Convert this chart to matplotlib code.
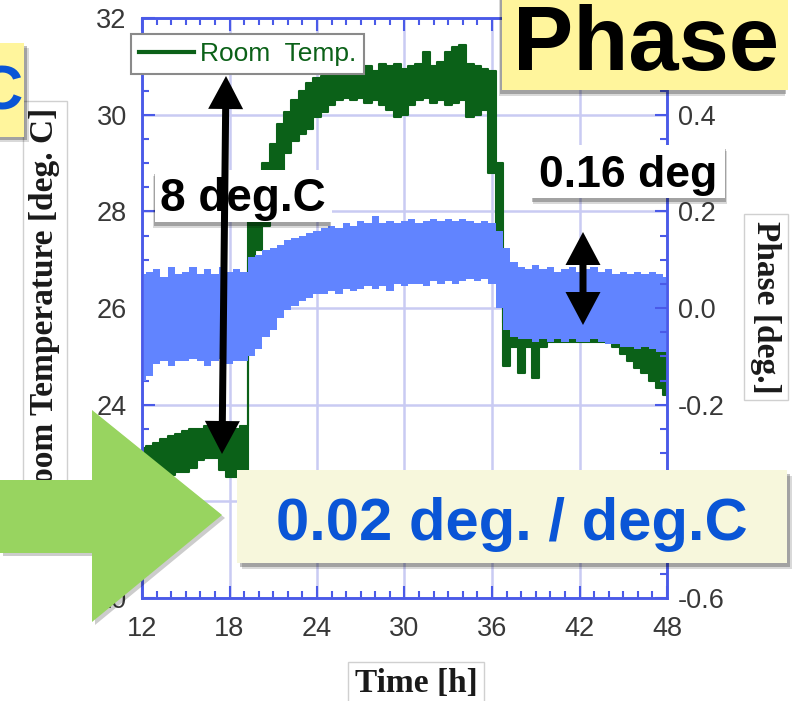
import numpy as np
import matplotlib
matplotlib.use('Agg')
import matplotlib.pyplot as plt
from matplotlib.lines import Line2D
from matplotlib.patches import Rectangle, Polygon
from matplotlib.ticker import MultipleLocator

# time grid [h] and the envelopes of the two noisy traces
hours = np.arange(12, 48.5, 0.5)

temp_hi = [23.1, 23.15, 23.2, 23.3, 23.35, 23.4, 23.45, 23.5, 23.5, 23.55,
           23.5, 23.45, 23.5, 23.5, 23.55, 27.9, 28.4, 29.0, 29.4, 29.8,
           30.05, 30.3, 30.5, 30.65, 30.75, 30.8, 30.85, 30.9, 30.95, 31.0,
           30.95, 31.0, 30.9, 31.05, 31.0, 31.05, 30.95, 31.0, 31.05, 31.3,
           31.0, 31.1, 31.3, 31.4, 31.45, 31.05, 31.0, 30.95, 30.9, 29.0,
           25.7, 25.7, 25.75, 25.7, 25.8, 25.8, 25.9, 25.9, 25.85, 25.9,
           25.9, 25.85, 25.9, 25.85, 25.9, 25.8, 25.7, 25.6, 25.5, 25.4,
           25.3, 25.2, 25.1]
temp_lo = [22.5, 22.5, 22.5, 22.55, 22.55, 22.6, 22.6, 22.7, 22.85, 22.9,
           22.9, 22.65, 22.5, 22.5, 22.5, 27.0, 27.2, 27.7, 28.3, 28.85,
           29.2, 29.45, 29.6, 29.7, 29.95, 30.05, 30.2, 30.3, 30.35, 30.3,
           30.35, 30.25, 30.3, 30.2, 30.1, 29.95, 30.0, 30.2, 30.3, 30.35,
           30.25, 30.3, 30.2, 30.25, 30.3, 29.95, 30.0, 30.1, 28.8, 26.8,
           24.8, 25.2, 24.65, 25.2, 24.55, 25.2, 25.3, 25.3, 25.3, 25.3,
           25.3, 25.3, 25.3, 25.3, 25.3, 25.2, 25.05, 24.9, 24.75, 24.65,
           24.5, 24.35, 24.2]

phase_hi = [0.07, 0.075, 0.08, 0.065, 0.085, 0.07, 0.075, 0.085, 0.07, 0.08,
            0.07, 0.085, 0.075, 0.08, 0.075, 0.105, 0.11, 0.12, 0.125, 0.13,
            0.14, 0.145, 0.15, 0.155, 0.16, 0.165, 0.17, 0.165, 0.175, 0.17,
            0.18, 0.175, 0.19, 0.175, 0.18, 0.175, 0.18, 0.185, 0.175, 0.18,
            0.185, 0.18, 0.185, 0.18, 0.185, 0.18, 0.175, 0.18, 0.175, 0.16,
            0.125, 0.095, 0.085, 0.08, 0.09, 0.08, 0.085, 0.075, 0.08, 0.085,
            0.075, 0.08, 0.085, 0.075, 0.08, 0.07, 0.075, 0.07, 0.075, 0.07,
            0.075, 0.07, 0.065]
phase_lo = [-0.15, -0.14, -0.115, -0.11, -0.12, -0.11, -0.11, -0.105, -0.11, -0.12,
            -0.11, -0.105, -0.115, -0.11, -0.11, -0.10, -0.085, -0.06, -0.045, -0.02,
            -0.005, 0.005, 0.015, 0.02, 0.028, 0.03, 0.035, 0.03, 0.04, 0.035,
            0.04, 0.045, 0.04, 0.045, 0.035, 0.05, 0.045, 0.05, 0.05, 0.045,
            0.055, 0.05, 0.055, 0.05, 0.055, 0.06, 0.055, 0.06, 0.05, 0.0,
            -0.045, -0.06, -0.065, -0.065, -0.07, -0.065, -0.07, -0.065, -0.07, -0.065,
            -0.07, -0.07, -0.065, -0.07, -0.075, -0.075, -0.08, -0.08, -0.085, -0.08,
            -0.085, -0.09, -0.09]

x_ticks = [12, 18, 24, 30, 36, 42, 48]
temp_ticks = [20, 22, 24, 26, 28, 30, 32]
phase_ticks = [-0.6, -0.4, -0.2, 0.0, 0.2, 0.4, 0.6]

green = '#0b6118'
blue = '#6184ff'
spine_blue = '#4a5ae8'
grid_col = '#c9cbf3'
grey = '#383838'
W, H = 801, 701

fig = plt.figure(figsize=(W / 100, H / 100), dpi=100)
ax = fig.add_axes([142 / W, 1 - 598 / H, 525 / W, 580 / H])
ax2 = ax.twinx()

ax.fill_between(hours, temp_lo, temp_hi, step='mid', color=green, lw=0)
ax.step(hours, temp_lo, where='mid', color=green, lw=1.5)
ax.step(hours, temp_hi, where='mid', color=green, lw=1.5)
ax2.fill_between(hours, phase_lo, phase_hi, step='mid', color=blue, lw=0)

ax.set_xlim(12, 48)
ax.set_ylim(20, 32)
ax2.set_ylim(-0.6, 0.6)
ax.set_xticks(x_ticks)
ax.set_yticks(temp_ticks)
ax2.set_yticks(phase_ticks)
ax2.set_yticklabels([f'{v:.1f}' for v in phase_ticks])
ax.xaxis.set_minor_locator(MultipleLocator(1))
ax.yaxis.set_minor_locator(MultipleLocator(0.5))
ax2.yaxis.set_minor_locator(MultipleLocator(0.05))
ax.grid(True, which='major', color=grid_col, lw=1.8)
ax.set_axisbelow(True)

for a in (ax, ax2):
    for s in a.spines.values():
        s.set_color(spine_blue)
        s.set_linewidth(1.8)
    a.tick_params(which='both', direction='in', color=spine_blue, width=1.5,
                  labelcolor=grey, labelsize=19.5)
    a.tick_params(which='major', length=9)
    a.tick_params(which='minor', length=5)
    for lab in a.get_xticklabels() + a.get_yticklabels():
        lab.set_family('Liberation Sans')
ax.tick_params(axis='x', which='both', top=True, pad=13)
ax.tick_params(axis='y', which='both', right=False, pad=11)
ax2.tick_params(axis='y', which='both', pad=8)

ax2.legend(handles=[Line2D([], [], color=green, lw=3)], labels=['Room  Temp.'],
           loc='upper left', bbox_to_anchor=(131 / W, 1 - 34 / H),
           bbox_transform=fig.transFigure, borderaxespad=0, fancybox=False,
           edgecolor='#8a8a8a', framealpha=1, handlelength=2.1,
           handletextpad=0.2, borderpad=0.3, labelcolor=green,
           prop={'family': 'Liberation Sans', 'size': 19})
ax2.get_legend().get_frame().set_linewidth(1.5)

# overlay in pixel coordinates for the slide annotations
ov = fig.add_axes([0, 0, 1, 1], zorder=20)
ov.set_xlim(0, W)
ov.set_ylim(H, 0)
ov.axis('off')

lab_font = {'family': 'Liberation Serif', 'weight': 'bold', 'size': 24}
box = dict(boxstyle='square,pad=0.2', fc='white', ec='#d0d0d0', lw=1)
ov.text(45, 308, 'Room Temperature [deg. C]', rotation=90, ha='center',
        va='center', color='#1a1a1a', bbox=box, **lab_font, zorder=1)
ov.text(416, 684, 'Time [h]', ha='center', va='center', color='#1a1a1a',
        bbox=box, **lab_font, zorder=1)
ov.text(766, 307, 'Phase [deg.]', rotation=270, ha='center', va='center',
        color='#1a1a1a', bbox=box, **lab_font, zorder=1)


def shadow_rect(x0, y0, x1, y1, fc, dx=2, dy=4):
    for off, al in ((1.0, 0.25), (1.6, 0.15)):
        ov.add_patch(Rectangle((x0 + dx * off, y0 + dy * off), x1 - x0, y1 - y0,
                               fc='k', ec='none', alpha=al, zorder=4))
    ov.add_patch(Rectangle((x0, y0), x1 - x0, y1 - y0, fc=fc, ec='none', zorder=5))


def double_arrow(xa, ya, xb, yb, shaft=7, head_len=33, head_w=35):
    d = np.array([xb - xa, yb - ya], float)
    u = d / np.hypot(*d)
    n = np.array([-u[1], u[0]])
    a = np.array([xa, ya], float)
    b = np.array([xb, yb], float)
    pa = a + u * head_len
    pb = b - u * head_len
    pts = [a, pa + n * head_w / 2, pa + n * shaft / 2, pb + n * shaft / 2,
           pb + n * head_w / 2, b, pb - n * head_w / 2, pb - n * shaft / 2,
           pa - n * shaft / 2, pa - n * head_w / 2]
    ov.add_patch(Polygon(pts, closed=True, fc='black', ec='none', zorder=6))


bold = {'family': 'Liberation Sans', 'weight': 'bold'}

# left yellow box with cut-off blue "C"
shadow_rect(-10, 43, 24, 137, '#fff59c', dx=3, dy=3)
ov.text(23, 110, 'C', ha='right', va='baseline', color='#0a55d6', size=45,
        zorder=7, **bold)

# "Phase" title box
shadow_rect(502, -10, 788, 90, '#fff59c', dx=-2, dy=4)
ov.text(646, 70, 'Phase', ha='center', va='baseline', color='black', size=65,
        zorder=7, **bold)

# 8 deg.C arrow and label
double_arrow(226, 76, 222, 454)
shadow_rect(155, 170, 332, 222, 'white', dx=-1, dy=4)
ov.text(243, 211, '8 deg.C', ha='center', va='baseline', color='black', size=33,
        zorder=7, **bold)

# 0.16 deg arrow and label
double_arrow(583, 232, 583, 325)
shadow_rect(531, 145, 725, 198, 'white', dx=1, dy=4)
ov.text(628, 187, '0.16 deg', ha='center', va='baseline', color='black', size=32,
        zorder=7, **bold)

# big green arrow
arrow_pts = [(0, 480), (92, 480), (92, 410), (222, 515), (92, 622), (92, 553), (0, 553)]
ov.add_patch(Polygon([(x + 3, y + 3) for x, y in arrow_pts], closed=True, fc='k',
                     ec='none', alpha=0.2, zorder=4))
ov.add_patch(Polygon(arrow_pts, closed=True, fc='#98d460', ec='none', zorder=5))

# result box
shadow_rect(237, 470, 787, 563, '#f7f7dc', dx=3, dy=4)
ov.text(512, 540, '0.02 deg. / deg.C', ha='center', va='baseline', color='#0a55d6',
        size=43, zorder=7, **bold)

fig.savefig('out.png', dpi=100)
